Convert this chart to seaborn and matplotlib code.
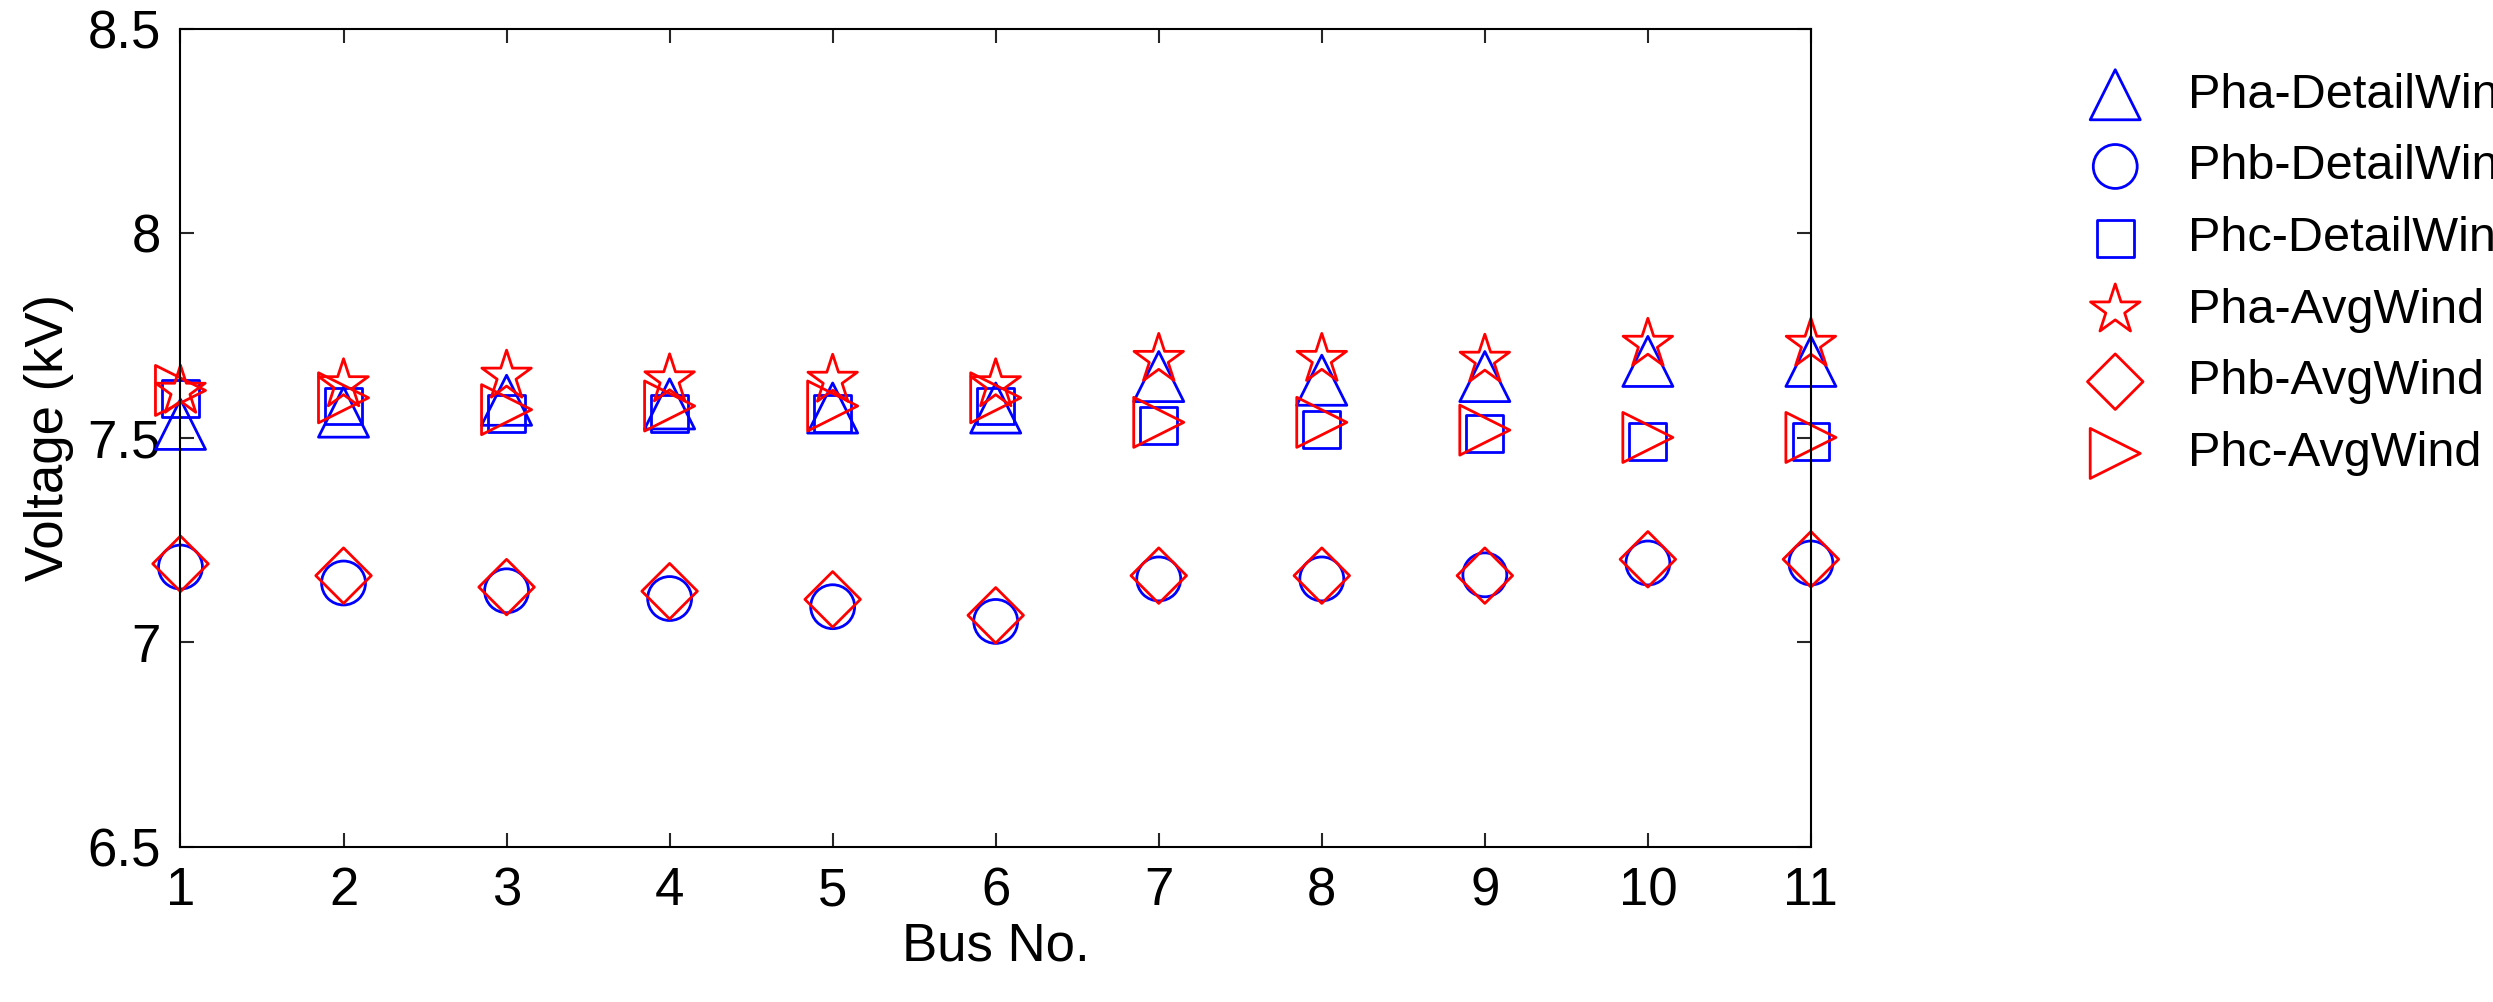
import numpy as np
import pandas as pd
import matplotlib
matplotlib.use('Agg')
import matplotlib.pyplot as plt
import seaborn as sns

buses = list(range(1, 12))
pha_detail = [7.533, 7.563, 7.592, 7.583, 7.573, 7.573, 7.650, 7.641, 7.650, 7.687, 7.687]
phb_detail = [7.184, 7.145, 7.126, 7.107, 7.087, 7.051, 7.155, 7.155, 7.165, 7.194, 7.194]
phc_detail = [7.596, 7.578, 7.559, 7.559, 7.559, 7.578, 7.531, 7.520, 7.511, 7.492, 7.492]
pha_avg = [7.614, 7.630, 7.651, 7.642, 7.641, 7.630, 7.692, 7.692, 7.690, 7.729, 7.729]
phb_avg = [7.192, 7.163, 7.135, 7.125, 7.105, 7.066, 7.163, 7.163, 7.163, 7.203, 7.203]
phc_avg = [7.616, 7.598, 7.569, 7.578, 7.578, 7.598, 7.538, 7.538, 7.519, 7.501, 7.501]

series = [
    ('Pha-DetailWind', pha_detail, '^', 'blue', 1300),
    ('Phb-DetailWind', phb_detail, 'o', 'blue', 1000),
    ('Phc-DetailWind', phc_detail, 's', 'blue', 700),
    ('Pha-AvgWind', pha_avg, '*', 'red', 1400),
    ('Phb-AvgWind', phb_avg, 'D', 'red', 800),
    ('Phc-AvgWind', phc_avg, '>', 'red', 1300),
]

sns.set_style('white')
plt.rcParams['font.family'] = ['Liberation Sans', 'DejaVu Sans']
plt.rcParams['text.color'] = 'black'

fig = plt.figure(figsize=(24.93, 10.02), dpi=100)
ax = fig.add_axes([0.0724, 0.155, 0.654, 0.816])

for name, vals, marker, color, size in series:
    df = pd.DataFrame({'bus': buses, 'v': vals})
    sns.scatterplot(data=df, x='bus', y='v', ax=ax, marker=marker, s=size,
                    facecolors='none', edgecolor=color, linewidth=2, label=name,
                    clip_on=False)

ax.set_xlim(1, 11)
ax.set_ylim(6.5, 8.5)
ax.set_xticks(buses)
ax.set_yticks([6.5, 7, 7.5, 8, 8.5])
ax.set_yticklabels(['6.5', '7', '7.5', '8', '8.5'])
ax.tick_params(labelsize=38, labelcolor='black', direction='in', length=10, width=1.5,
               pad=14, left=True, bottom=True, right=True, top=True)
ax.set_xlabel('Bus No.', fontsize=38, labelpad=4, color='black')
ax.set_ylabel('Voltage (kV)', fontsize=38, labelpad=10, color='black')
for sp in ax.spines.values():
    sp.set_color('black')
    sp.set_linewidth(1.5)

leg = ax.legend(loc='center left', bbox_to_anchor=(1.13, 0.7), frameon=False,
                fontsize=35, handletextpad=0.5, labelspacing=0.55, markerscale=1.0)
for t in leg.get_texts():
    t.set_color('black')

fig.savefig('out.png', dpi=100)
